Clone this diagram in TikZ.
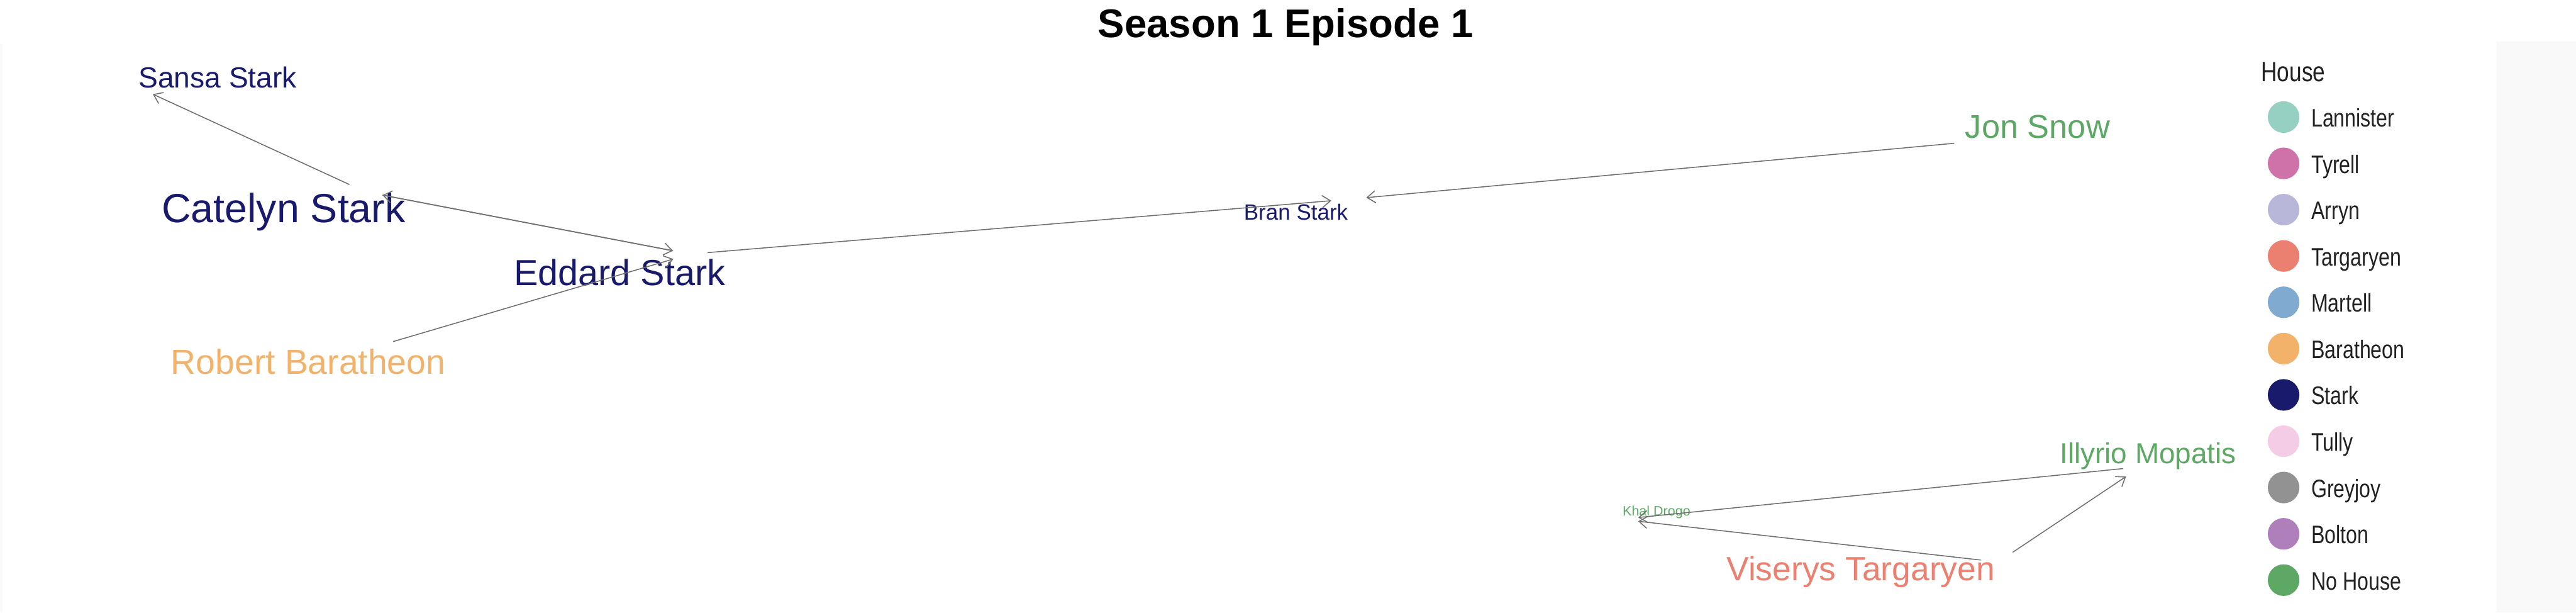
\documentclass[tikz,border=0pt]{standalone}
\usepackage{fontspec}
\setmainfont{Liberation Sans}
\newfontfamily\legendfont[FakeStretch=0.8]{Liberation Sans}
\usetikzlibrary{arrows.meta}
\definecolor{stark}{HTML}{191A6B}
\definecolor{barath}{HTML}{F2B26A}
\definecolor{nohouse}{HTML}{5DA865}
\definecolor{targ}{HTML}{EC8070}
\definecolor{lannister}{HTML}{96D0C2}
\definecolor{tyrell}{HTML}{CF72A9}
\definecolor{arryn}{HTML}{B9B7D9}
\definecolor{martell}{HTML}{80AAD0}
\definecolor{tully}{HTML}{F5CCE5}
\definecolor{greyjoy}{HTML}{929292}
\definecolor{bolton}{HTML}{AF7FBB}
\definecolor{linkgray}{HTML}{707070}
\definecolor{panel}{HTML}{F9F9F9}
\definecolor{legtext}{HTML}{222222}

\begin{document}
\begin{tikzpicture}[>={Straight Barb[length=1.8mm, width=2.6mm]},
  vtx/.style={circle, minimum size=0.74cm, inner sep=0pt},
  lbl/.style={anchor=base, inner sep=0pt},
  fs/.style={font=\fontsize{#1pt}{#1pt}\selectfont},
  legfs/.style={anchor=base west, inner sep=0pt, text=legtext,
    font=\legendfont\fontsize{#1pt}{#1pt}\selectfont},
  link/.style={->, draw=linkgray, line width=0.6pt}]

% Background
\useasboundingbox (0,0) rectangle (55.5,13.19);
\fill[white] (0,0) rectangle (55.5,13.19);
\fill[panel] (0,0) rectangle (0.06,12.24);
\fill[panel] (53.78,0) rectangle (55.5,12.29);

% Title
\node[lbl, font=\fontsize{24.5pt}{24.5pt}\selectfont\bfseries] (title) at (27.70,12.39) {Season 1 Episode 1};

% ========== Vertices ==========
\node[vtx] (sansa)   at (2.95,11.32) {};
\node[vtx] (catelyn) at (7.87,9.06) {};
\node[vtx] (eddard)  at (14.87,7.72) {};
\node[vtx] (robert)  at (8.11,5.73) {};
\node[vtx] (bran)    at (29.06,8.90) {};
\node[vtx] (jon)     at (42.48,10.14) {};
\node[vtx] (khal)    at (34.92,2.01) {};
\node[vtx] (viserys) at (43.05,1.09) {};
\node[vtx] (illyrio) at (46.12,3.14) {};

% ========== Labels ==========
\node[lbl, fs=17.8, text=stark] (sansa-l)   at (4.69,11.30) {Sansa Stark};
\node[lbl, fs=24.9, text=stark] (catelyn-l) at (6.11,8.40) {Catelyn Stark};
\node[lbl, fs=22.2, text=stark] (eddard-l)  at (13.35,7.05) {Eddard Stark};
\node[lbl, fs=21.3, text=barath] (robert-l) at (6.64,5.14) {Robert Baratheon};
\node[lbl, fs=13.5, text=stark] (bran-l)    at (27.92,8.45) {Bran Stark};
\node[lbl, fs=20.2, text=nohouse] (jon-l)   at (43.90,10.22) {Jon Snow};
\node[lbl, fs=17.7, text=nohouse] (illyrio-l) at (46.28,3.21) {Illyrio Mopatis};
\node[lbl, fs=8.3, text=nohouse] (khal-l)   at (35.69,2.09) {Khal Drogo};
\node[lbl, fs=20.6, text=targ] (viserys-l)  at (40.09,0.69) {Viserys Targaryen};

% ========== Edges ==========
\draw[link] (catelyn) -- (sansa);
\draw[link] (catelyn) -- (eddard);
\draw[link] (eddard) -- (catelyn);
\draw[link] (robert) -- (eddard);
\draw[link] (eddard) -- (bran);
\draw[link] (jon) -- (bran);
\draw[link] (viserys) -- (khal);
\draw[link] (viserys) -- (illyrio);
\draw[link] (illyrio) -- (khal);

% ========== Legend ==========
\node[legfs=17] (house) at (48.71,11.43) {House};
\foreach \name/\col [count=\i from 0] in {Lannister/lannister, Tyrell/tyrell, Arryn/arryn,
    Targaryen/targ, Martell/martell, Baratheon/barath, Stark/stark, Tully/tully,
    Greyjoy/greyjoy, Bolton/bolton, No House/nohouse} {
  \fill[\col] (49.20,{10.67-0.997*\i}) circle (0.34);
  \node[legfs=15.5] (leg\i) at (49.79,{10.46-0.997*\i}) {\name};
}

\end{tikzpicture}
\end{document}
